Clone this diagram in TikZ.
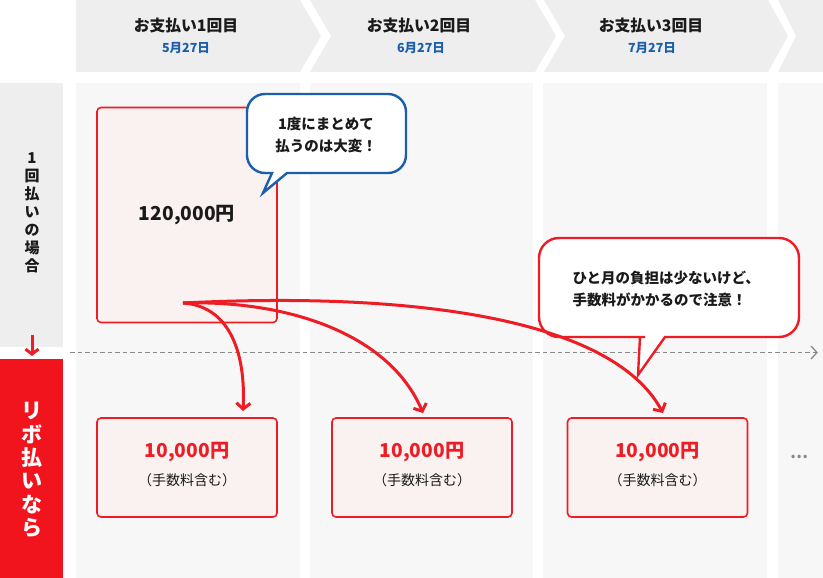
\documentclass[tikz,border=0pt]{standalone}
\usepackage{fontspec}
\setmainfont{Noto Sans CJK JP}
\usetikzlibrary{arrows.meta,calc}
\definecolor{hdrgray}{HTML}{EEEEEE}
\definecolor{bodygray}{HTML}{F7F7F7}
\definecolor{rbred}{HTML}{EE1C25}
\definecolor{panelred}{HTML}{F2141C}
\definecolor{boxfill}{HTML}{FAF1F1}
\definecolor{bblue}{HTML}{1B5FAA}
\definecolor{txt}{HTML}{1A1A1A}
\definecolor{dashgray}{HTML}{8A8A8A}
\begin{document}
\begin{tikzpicture}[x=1pt,y=-1pt,
  hdrtitle/.style={font=\bfseries\fontsize{15.8}{18}\selectfont, text=txt},
  hdrdate/.style={font=\bfseries\fontsize{12.5}{14}\selectfont, text=bblue},
  redbox/.style={draw=rbred, line width=1.6pt, fill=boxfill, rounded corners=4pt, inner sep=0pt},
  amount/.style={font=\bfseries\fontsize{19.2}{22}\selectfont, text=rbred},
  feenote/.style={font=\fontsize{14}{16}\selectfont, text=txt},
  bubbletext/.style={font=\bfseries\fontsize{14.5}{22}\selectfont, text=txt},
  curvearrow/.style={draw=rbred, line width=3pt, -{Straight Barb[length=6pt,width=14pt]}},
]
\useasboundingbox (0,0) rectangle (823,578);
% header chevrons
\fill[hdrgray] (76,0) -- (300,0) -- (321,36) -- (300,72) -- (76,72) -- cycle;
\fill[hdrgray] (310,0) -- (535,0) -- (556,36) -- (535,72) -- (310,72) -- (331,36) -- cycle;
\fill[hdrgray] (544,0) -- (768,0) -- (788,36) -- (768,72) -- (544,72) -- (565,36) -- cycle;
\fill[hdrgray] (778,0) -- (823,0) -- (823,72) -- (778,72) -- (796,36) -- cycle;
\node[hdrtitle] (h1) at (186,26) {お支払い1回目};
\node[hdrdate] (d1) at (186,48) {5月27日};
\node[hdrtitle] (h2) at (419,26) {お支払い2回目};
\node[hdrdate] (d2) at (421,48) {6月27日};
\node[hdrtitle] (h3) at (651,26) {お支払い3回目};
\node[hdrdate] (d3) at (652,48) {7月27日};
% body columns
\fill[bodygray] (76,83) rectangle (300,578);
\fill[bodygray] (310,83) rectangle (533,578);
\fill[bodygray] (543,83) rectangle (767,578);
\fill[bodygray] (778,83) rectangle (823,578);
% left panels
\fill[hdrgray] (0,83) rectangle (63,347);
\fill[panelred] (0,359) rectangle (63,578);
\node[font=\bfseries\fontsize{15}{18}\selectfont, text=txt, align=center, inner sep=0pt] (lbl1) at (32,213) {1\\回\\払\\い\\の\\場\\合};
\node[font=\bfseries\fontsize{21}{23.3}\selectfont, text=white, align=center, inner sep=0pt] (lbl2) at (32,470) {リ\\ボ\\払\\い\\な\\ら};
\coordinate (da) at (32,335);
\coordinate (db) at (32,356);
\draw[rbred, line width=3pt, -{Straight Barb[length=5pt,width=13pt]}] (da) -- (db);
% dashed timeline
\coordinate (ls) at (70,352.5);
\coordinate (le) at (816,352.5);
\draw[dashgray, line width=1.3pt, dash pattern=on 4.5pt off 3pt] (ls) -- (le);
\draw[dashgray, line width=1.3pt] (811,346) -- (817,352.5) -- (811,359);
% big box
\node[redbox, minimum width=180pt, minimum height=215pt] (big) at (187,215) {};
\node[font=\bfseries\fontsize{19.2}{22}\selectfont, text=txt] (bigamt) at (big.center) {120,000円};
% small boxes
\node[redbox, minimum width=180pt, minimum height=99pt] (b1) at (187,467.5) {};
\node[redbox, minimum width=180pt, minimum height=99pt] (b2) at (422,467.5) {};
\node[redbox, minimum width=180pt, minimum height=99pt] (b3) at (657.5,467.5) {};
\foreach \b in {b1,b2,b3}{
  \node[amount] (\b a) at ($(\b.center)+(0,-15)$) {10,000円};
  \node[feenote] (\b f) at ($(\b.center)+(0,13)$) {（手数料含む）};
}
\node[font=\bfseries\fontsize{16}{18}\selectfont, text=dashgray] (dots) at (799,457) {…};
% blue bubble
\draw[bblue, line width=2.4pt, fill=white] (272,173) [rounded corners=18pt] -- (247,173) -- (247,94) -- (406,94) -- (406,173) -- (330,173) [sharp corners] -- (287,173) -- (263,193) -- cycle;
\node[bubbletext, align=center] (bt1) at (326,135) {1度にまとめて\\払うのは大変！};
% red bubble
\draw[rbred, line width=2.4pt, fill=white] (645,337) [rounded corners=20pt] -- (539,337) -- (539,238) -- (799,238) -- (799,337) -- (720,337) [sharp corners] -- (665,337) -- (638,375) -- (640,337) -- cycle;
\node[bubbletext, align=left, anchor=west] (bt2) at (569,288.5) {ひと月の負担は少ないけど、\\手数料がかかるので注意！};
% curved arrows
\coordinate (s) at (183,303);
\coordinate (t1) at (243,411);
\coordinate (t2) at (423,413);
\coordinate (t3) at (663,413);
\draw[curvearrow] (s) .. controls (228,306) and (246,350) .. (t1);
\draw[curvearrow] (s) .. controls (290,300) and (390,335) .. (t2);
\draw[curvearrow] (s) .. controls (400,292) and (610,315) .. (t3);
\end{tikzpicture}
\end{document}
